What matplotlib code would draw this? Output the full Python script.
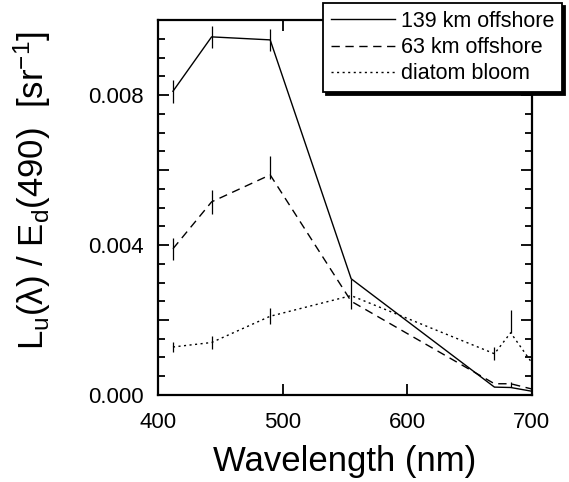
import matplotlib
matplotlib.use("Agg")
import matplotlib.pyplot as plt
from matplotlib.ticker import MultipleLocator, FuncFormatter
import numpy as np

plt.rcParams['font.family'] = ['Liberation Sans', 'DejaVu Sans']
plt.rcParams['mathtext.fontset'] = 'custom'
plt.rcParams['mathtext.rm'] = 'Liberation Sans'
plt.rcParams['mathtext.it'] = 'Liberation Sans'

wavelength = [412, 443, 490, 555, 670, 683, 700]

off139 = [0.0081, 0.00955, 0.00947, 0.0031, 0.00021, 0.0002, 0.0001]
off139_lo = [0.0003, 0.0003, 0.0003, 0.0008, 0.0, 0.0, 0.0]
off139_hi = [0.0003, 0.0003, 0.0003, 0.0, 0.0, 0.00015, 0.0]

off63 = [0.0039, 0.00515, 0.00587, 0.0025, 0.0003, 0.0003, 0.00016]
off63_lo = [0.0003, 0.00033, 0.00012, 0.0, 0.0, 0.0, 0.0]
off63_hi = [0.0003, 0.00033, 0.0005, 0.0, 0.0, 0.0, 0.0]

diatom = [0.00128, 0.0014, 0.0021, 0.00265, 0.0011, 0.00166, 0.00086]
diatom_lo = [0.00014, 0.00017, 0.00022, 0.0, 0.00018, 0.0, 0.0]
diatom_hi = [0.00014, 0.00017, 0.00022, 0.0, 0.00018, 0.0006, 0.0]

labels = ['139 km offshore', '63 km offshore', 'diatom bloom']

fig = plt.figure(figsize=(5.69, 4.82), dpi=100)
ax = fig.add_axes([0.2777, 0.1805, 0.657, 0.778])

series = [
    (off139, off139_lo, off139_hi, '-'),
    (off63, off63_lo, off63_hi, (0, (6, 4))),
    (diatom, diatom_lo, diatom_hi, (0, (1.5, 2.5))),
]
handles = []
for (vals, lo, hi, ls), lab in zip(series, labels):
    ax.errorbar(wavelength, vals, yerr=[lo, hi], fmt='none', ecolor='black',
                elinewidth=0.9, capsize=0)
    h, = ax.plot(wavelength, vals, color='black', linestyle=ls, linewidth=1.0,
                 label=lab)
    handles.append(h)

ax.set_xlim(400, 700)
ax.set_ylim(0, 0.010)
ax.xaxis.set_major_locator(MultipleLocator(100))
ax.yaxis.set_major_locator(MultipleLocator(0.002))
ax.yaxis.set_minor_locator(MultipleLocator(0.0005))

def yfmt(v, pos):
    if abs(round(v / 0.004) * 0.004 - v) < 1e-9:
        return '%.3f' % v
    return ''
ax.yaxis.set_major_formatter(FuncFormatter(yfmt))

ax.tick_params(axis='both', which='both', direction='in', top=True, right=True,
               labelsize=16, width=1.3, color='black')
ax.tick_params(axis='both', which='major', length=8)
ax.tick_params(axis='x', which='major', pad=12)
ax.tick_params(axis='y', which='major', pad=10)
ax.tick_params(axis='y', which='minor', length=5)
for s in ax.spines.values():
    s.set_linewidth(1.6)

ax.set_xlabel('Wavelength (nm)', fontsize=25, labelpad=9)
ax.set_ylabel(r'$\mathregular{L_u(\lambda)\ /\ E_d(490)\ \ [sr^{-1}]}$', fontsize=25)
ax.yaxis.set_label_coords(-0.28, 0.545)

leg = ax.legend(handles=handles, loc='upper right', bbox_to_anchor=(1.08, 1.045),
                borderaxespad=0, fontsize=15.5, frameon=True, fancybox=False,
                handlelength=3.0, handletextpad=0.25, labelspacing=0.25,
                borderpad=0.35, shadow={'color': 'black', 'alpha': 1.0, 'ox': 2, 'oy': -2})
leg.get_frame().set_edgecolor('black')
leg.get_frame().set_linewidth(1.3)
leg.set_zorder(5)

fig.savefig('out.png', dpi=100)
